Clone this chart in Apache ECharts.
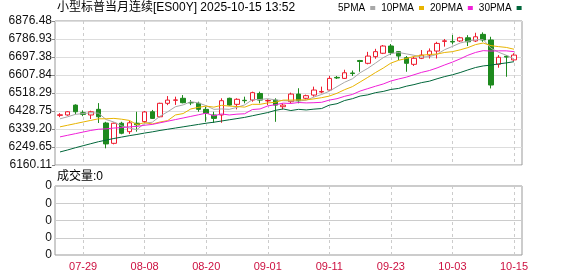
<!DOCTYPE html>
<html><head><meta charset="utf-8">
<script src="https://cdn.jsdelivr.net/npm/echarts@6/dist/echarts.min.js"></script>
<style>html,body{margin:0;padding:0;background:#fff}#c{width:578px;height:276px}</style>
</head><body><div id="c"></div>
<script>
const dates=['07-24','07-25','07-28','07-29','07-30','07-31','08-01','08-04','08-05','08-06','08-07','08-08','08-11','08-12','08-13','08-14','08-15','08-18','08-19','08-20','08-21','08-22','08-25','08-26','08-27','08-28','08-29','09-01','09-02','09-03','09-04','09-05','09-08','09-09','09-10','09-11','09-12','09-15','09-16','09-17','09-18','09-19','09-22','09-23','09-24','09-25','09-26','09-29','09-30','10-01','10-02','10-03','10-06','10-07','10-08','10-09','10-10','10-13','10-14','10-15'];
const openP=[6407,6409,6458,6420,6409,6437,6369,6268,6368,6326,6368,6376,6425,6400,6467,6482,6492,6471,6467,6437,6409,6409,6492,6462,6482,6483,6516,6479,6483,6450,6475,6513,6492,6508,6523,6533,6596,6591,6618,6680,6666,6699,6716,6752,6724,6694,6661,6691,6707,6727,6775,6775,6777,6793,6777,6810,6782,6661,6701,6683];
const closeP=[6410,6425,6425,6412,6425,6400,6265,6368,6318,6370,6360,6424,6392,6467,6483,6484,6470,6469,6437,6417,6392,6480,6458,6487,6480,6520,6483,6481,6458,6458,6513,6480,6505,6533,6526,6591,6593,6619,6615,6675,6702,6724,6752,6719,6702,6666,6691,6707,6727,6765,6778,6772,6793,6773,6798,6782,6558,6696,6697,6707];
const lowP=[6398,6405,6412,6403,6389,6369,6243,6263,6313,6314,6326,6369,6389,6397,6458,6459,6467,6458,6425,6375,6370,6370,6455,6437,6467,6475,6467,6458,6375,6437,6467,6467,6487,6500,6517,6530,6588,6588,6603,6624,6661,6689,6712,6707,6682,6624,6653,6687,6690,6690,6749,6760,6772,6752,6772,6773,6541,6644,6599,6678];
const highP=[6418,6428,6462,6432,6430,6468,6375,6371,6375,6380,6425,6429,6434,6470,6503,6500,6508,6483,6475,6450,6425,6492,6495,6492,6500,6525,6525,6487,6492,6467,6520,6542,6510,6550,6550,6603,6603,6634,6630,6683,6723,6738,6757,6762,6727,6702,6699,6732,6740,6773,6787,6807,6798,6806,6818,6820,6798,6707,6707,6716];
const ma5=[6390,6400,6412,6416,6420,6418,6386,6374,6355,6344,6336,6368,6373,6403,6425,6450,6459,6475,6469,6455,6437,6439,6437,6447,6459,6485,6486,6490,6484,6480,6479,6478,6483,6498,6511,6527,6550,6572,6589,6619,6641,6667,6694,6714,6720,6713,6706,6697,6699,6711,6734,6750,6767,6776,6783,6784,6741,6721,6706,6688];
const ma10=[6350,6358,6366,6374,6382,6390,6390,6392,6388,6382,6361,6371,6364,6374,6381,6409,6416,6439,6447,6453,6448,6457,6453,6451,6448,6462,6462,6469,6472,6483,6483,6484,6484,6489,6495,6503,6517,6535,6550,6573,6596,6620,6642,6667,6681,6690,6700,6706,6710,6712,6720,6724,6733,6744,6759,6767,6754,6749,6745,6736];
const ma20=[6300,6308,6316,6324,6332,6338,6340,6344,6346,6350,6352,6358,6362,6370,6378,6386,6394,6402,6410,6418,6405,6414,6409,6413,6415,6436,6439,6454,6460,6468,6466,6471,6469,6470,6472,6483,6490,6502,6511,6528,6540,6552,6563,6578,6588,6597,6609,6621,6630,6643,6658,6672,6688,6706,6720,6729,6727,6728,6728,6724];
const ma30=[6225,6235,6246,6256,6266,6276,6284,6292,6299,6306,6312,6319,6325,6332,6338,6344,6350,6356,6362,6368,6373,6379,6385,6391,6397,6405,6413,6421,6432,6439,6431,6437,6434,6438,6441,6458,6465,6481,6490,6503,6509,6520,6526,6536,6541,6552,6560,6570,6577,6589,6600,6609,6620,6633,6645,6653,6657,6663,6668,6674];
const volume=[0,0,0,0,0,0,0,0,0,0,0,0,0,0,0,0,0,0,0,0,0,0,0,0,0,0,0,0,0,0,0,0,0,0,0,0,0,0,0,0,0,0,0,0,0,0,0,0,0,0,0,0,0,0,0,0,0,0,0,0];
const xTickLabels=['07-29','08-08','08-20','09-01','09-11','09-23','10-03','10-15'];
const yTickLabels=['6160.11','6249.65','6339.20','6428.75','6518.29','6607.84','6697.38','6786.93','6876.48'];
const volTickLabels=['0','0','0','0','0'];
const yMin=6160.11, yMax=6876.48;
const maNames=['5PMA','10PMA','20PMA','30PMA'];
const maColors=['#a8a8a8','#e8b400','#f020d8','#00663a'];

const candles=dates.map((d,i)=>[openP[i],closeP[i],lowP[i],highP[i]]);
const showTick=(idx)=>xTickLabels.indexOf(dates[idx])>=0;
const UP='#ee1c2e', DOWN='#1e8a1e';
const txt='"Liberation Sans","Noto Sans CJK SC",sans-serif';

const chart=echarts.init(document.getElementById('c'),null,{renderer:'canvas'});
chart.setOption({
  animation:false,
  title:[
    {text:'小型标普当月连续[ES00Y] 2025-10-15 13:52',left:57,top:2,padding:0,textStyle:{fontSize:12,fontWeight:'normal',color:'#000',fontFamily:txt}},
    {text:'成交量:'+volume[volume.length-1],left:57,top:171,padding:0,textStyle:{fontSize:12,fontWeight:'normal',color:'#000',fontFamily:txt}}
  ],
  legend:{data:maNames,left:338,top:3,padding:0,itemWidth:5,itemHeight:4,itemGap:6,align:'right',icon:'rect',
    textStyle:{fontSize:10,color:'#000',fontFamily:'"Liberation Sans",sans-serif',padding:[0,0,0,0]}},
  grid:[
    {left:60,right:64,top:21,height:144,show:false},
    {left:55,right:56,top:21,height:144,show:true,borderColor:'#999',borderWidth:1,backgroundColor:'transparent'},
    {left:60,right:64,top:186,height:69,show:false},
    {left:55,right:56,top:186,height:69,show:true,borderColor:'#999',borderWidth:1,backgroundColor:'transparent'}
  ],
  xAxis:[
    {gridIndex:0,type:'category',data:dates,boundaryGap:false,axisLine:{show:false},axisTick:{show:false},axisLabel:{show:false},
      splitLine:{show:true,interval:(i)=>showTick(i),lineStyle:{type:[3,3],color:'#ccc',width:1}}},
    {gridIndex:1,type:'value',min:0,max:1,show:false},
    {gridIndex:2,type:'category',data:dates,boundaryGap:false,axisLine:{show:false},axisTick:{show:false},
      axisLabel:{show:true,interval:(i)=>showTick(i),color:'#cc1040',fontSize:11,margin:6,fontFamily:'"Liberation Sans",sans-serif'},
      splitLine:{show:true,interval:(i)=>showTick(i),lineStyle:{type:[3,3],color:'#ccc',width:1}}},
    {gridIndex:3,type:'value',min:0,max:1,show:false}
  ],
  yAxis:[
    {gridIndex:0,type:'value',min:yMin,max:yMax,show:false},
    {gridIndex:1,type:'value',min:0,max:8,interval:1,axisLine:{show:false},
      axisTick:{show:true,length:3,lineStyle:{color:'#888'}},
      axisLabel:{formatter:(v)=>yTickLabels[v],color:'#111',fontSize:12,margin:3,fontFamily:'"Liberation Sans",sans-serif'},
      splitLine:{show:true,lineStyle:{color:'#ddd',width:1}}},
    {gridIndex:2,type:'value',min:0,max:4,show:false},
    {gridIndex:3,type:'value',min:0,max:4,interval:1,axisLine:{show:false},
      axisTick:{show:false},
      axisLabel:{formatter:(v)=>volTickLabels[v],color:'#111',fontSize:12,margin:3,fontFamily:'"Liberation Sans",sans-serif'},
      splitLine:{show:true,lineStyle:{color:'#ccc',width:1}}}
  ],
  series:[
    {type:'candlestick',name:'K',xAxisIndex:0,yAxisIndex:0,data:candles,barWidth:5,clip:false,
      itemStyle:{color:'#fff',color0:DOWN,borderColor:UP,borderColor0:DOWN,borderWidth:1}},
    ...[ma5,ma10,ma20,ma30].map((d,k)=>({type:'line',name:maNames[k],xAxisIndex:0,yAxisIndex:0,data:d,symbol:'none',
      color:maColors[k],lineStyle:{width:1,color:maColors[k]},clip:false})),
    {type:'bar',name:'成交量',xAxisIndex:2,yAxisIndex:2,data:volume,barWidth:5,itemStyle:{color:'#888'}}
  ]
});
</script></body></html>
